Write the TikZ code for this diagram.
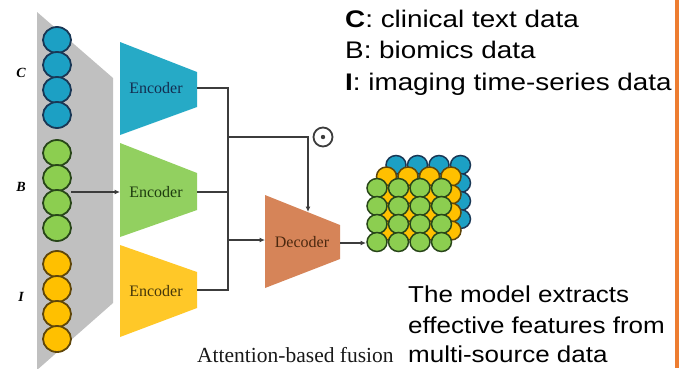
\documentclass[tikz,border=0pt]{standalone}
\usepackage{fontspec}
\setmainfont{Liberation Serif}
\newfontfamily\arialf{Liberation Sans}
\usetikzlibrary{arrows.meta}
\definecolor{cblue}{RGB}{28,160,196}
\definecolor{cblueline}{RGB}{25,55,85}
\definecolor{cgreen}{RGB}{140,206,80}
\definecolor{cgreenline}{RGB}{40,70,25}
\definecolor{cyellow}{RGB}{255,192,0}
\definecolor{cyellowline}{RGB}{95,70,10}
\definecolor{encblue}{RGB}{38,170,198}
\definecolor{encgreen}{RGB}{146,208,96}
\definecolor{encyellow}{RGB}{255,200,40}
\definecolor{decorange}{RGB}{214,132,88}
\definecolor{grayband}{RGB}{192,192,192}
\definecolor{orangeline}{RGB}{237,125,49}
\definecolor{connclr}{RGB}{60,60,60}
\begin{document}
\begin{tikzpicture}[x=1pt,y=-1pt,
  wire/.style={draw=connclr,line width=2pt},
  arr/.style={wire,-{Latex[length=5.5pt,width=5pt]}},
  enctext/.style={font=\fontsize{16}{18}\selectfont,inner sep=0pt},
  lbl/.style={font=\fontsize{14}{16}\selectfont\bfseries\itshape,inner sep=0pt},
  legend/.style={anchor=base west,inner sep=0pt},
  ball/.style={line width=1.8pt}]
\useasboundingbox (0,0) rectangle (687,368);
\fill[white] (0,0) rectangle (687,368);
% gray band
\fill[grayband] (37,12) -- (113,78) -- (113,303) -- (37,370) -- cycle;
% input circles
\foreach \y in {40,65,90,115}
  \draw[ball,draw=cblueline,fill=cblue] (57,\y) ellipse [x radius=14pt,y radius=13pt];
\foreach \y in {153,178,203,228}
  \draw[ball,draw=cgreenline,fill=cgreen] (57,\y) ellipse [x radius=14pt,y radius=13pt];
\foreach \y in {264,289,314,339}
  \draw[ball,draw=cyellowline,fill=cyellow] (57,\y) ellipse [x radius=14pt,y radius=13pt];
\coordinate (colB) at (71,192);
% labels
\node[lbl] (labC) at (21,73) {C};
\node[lbl] (labB) at (21,187) {B};
\node[lbl] (labI) at (21,297) {I};
% encoders
\fill[encblue] (120,42) -- (197,72) -- (197,107) -- (120,135) -- cycle;
\fill[encgreen] (120,143) -- (197,173) -- (197,210) -- (120,237) -- cycle;
\fill[encyellow] (120,245) -- (197,272) -- (197,308) -- (120,337) -- cycle;
\node[enctext,text={rgb,255:red,20;green,45;blue,80}] (encC) at (156,88) {Encoder};
\node[enctext,text={rgb,255:red,30;green,60;blue,15}] (encB) at (156,192) {Encoder};
\node[enctext,text={rgb,255:red,70;green,55;blue,10}] (encI) at (156,291) {Encoder};
\coordinate (encBin) at (120,192);
\coordinate (encCout) at (197,88);
\coordinate (encBout) at (197,192);
\coordinate (encIout) at (197,290);
\coordinate (busTop) at (228,88);
\coordinate (busMid) at (228,192);
\coordinate (busBot) at (228,290);
\coordinate (busA) at (228,137);
\coordinate (busD) at (228,240);
\coordinate (turn) at (308,137);
% decoder
\fill[decorange] (265,195) -- (340,225) -- (340,259) -- (265,288) -- cycle;
\node[enctext,text={rgb,255:red,75;green,40;blue,15}] (dec) at (302,242) {Decoder};
\coordinate (decTop) at (308,212);
\coordinate (decIn) at (265,240);
\coordinate (decOut) at (340,243);
\coordinate (cubeIn) at (366,243);
% connectors
\draw[arr] (colB) -- (encBin);
\draw[wire] (encCout) -- (busTop) -- (busBot) -- (encIout);
\draw[wire] (encBout) -- (busMid);
\draw[arr] (busA) -- (turn) -- (decTop);
\draw[arr] (busD) -- (decIn);
\draw[arr] (decOut) -- (cubeIn);
% odot
\node[circle,draw=connclr,line width=1.8pt,minimum size=19pt,inner sep=0pt] (odot) at (323,137) {};
\fill[connclr] (odot.center) circle[radius=2.2pt];
% output cube
\foreach \dx/\dy/\f/\l in {19/-23/cblue/cblueline, 9.5/-11.5/cyellow/cyellowline, 0/0/cgreen/cgreenline}
  \foreach \r in {0,...,3}
    \foreach \c in {0,...,3}
      \draw[line width=1.5pt,draw=\l,fill=\f] ({377+21.5*\c+\dx},{188+18*\r+\dy}) ellipse [x radius=10pt,y radius=9.5pt];
% texts
\node[legend] (legC) at (345,27) {\scalebox{1.16}[1]{\arialf\fontsize{24}{28}\selectfont\textbf{C}: clinical text data}};
\node[legend] (legB) at (345,58) {\scalebox{1.16}[1]{\arialf\fontsize{24}{28}\selectfont B: biomics data}};
\node[legend] (legI) at (345,90) {\scalebox{1.16}[1]{\arialf\fontsize{24}{28}\selectfont\textbf{I}: imaging time-series data}};
\node[legend] (txt1) at (408,302) {\scalebox{1.13}[1]{\arialf\fontsize{23}{27}\selectfont The model extracts}};
\node[legend] (txt2) at (408,333) {\scalebox{1.13}[1]{\arialf\fontsize{23}{27}\selectfont effective features from}};
\node[legend] (txt3) at (408,362) {\scalebox{1.13}[1]{\arialf\fontsize{23}{27}\selectfont multi-source data}};
\node[legend,text={rgb,255:red,25;green,25;blue,25}] (att) at (197,362) {\fontsize{21.5}{24}\selectfont Attention-based fusion};
% right border
\draw[orangeline,line width=3.5pt] (677,0) -- (677,368);
\end{tikzpicture}
\end{document}
